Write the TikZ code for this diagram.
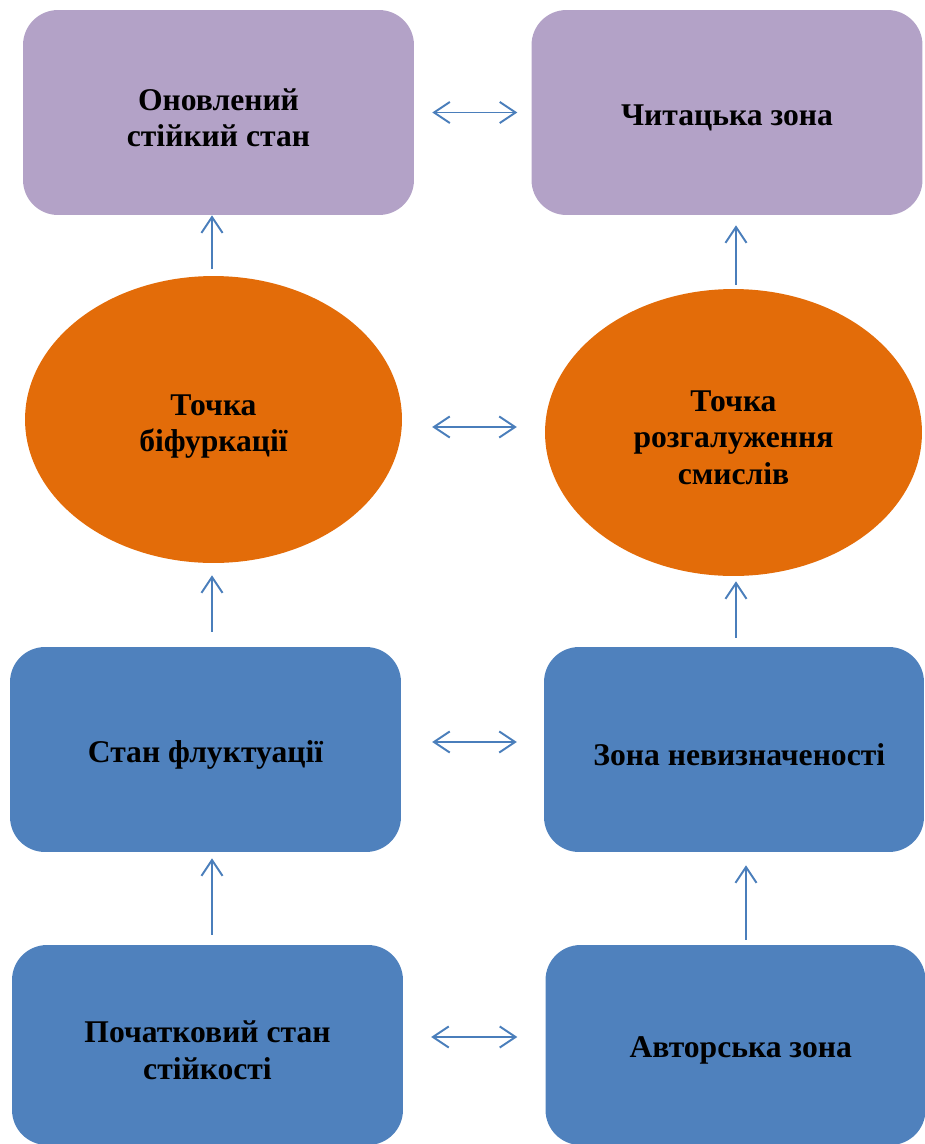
\documentclass[tikz,border=0pt]{standalone}
\usepackage{fontspec}
\setmainfont{Liberation Serif}
\usetikzlibrary{arrows.meta,shapes.geometric}
\definecolor{lilac}{HTML}{B3A2C7}
\definecolor{carrot}{HTML}{E36C09}
\definecolor{steel}{HTML}{4F81BD}
\definecolor{arrowblue}{HTML}{4A7EBB}

\begin{document}
\begin{tikzpicture}[x=0.02cm,y=-0.02cm,
  every label/.style={align=center,inner sep=0pt,yshift=-3pt,font=\fontsize{18}{21}\selectfont\bfseries},
  box/.style={rounded corners=0.7cm,minimum width=7.82cm,minimum height=4.1cm},
  oval/.style={ellipse,fill=carrot,minimum width=7.54cm,minimum height=5.74cm},
  link/.style={draw=arrowblue,line width=1.1pt,{Straight Barb[length=9pt,width=12pt]}-{Straight Barb[length=9pt,width=12pt]}},
  rise/.style={draw=arrowblue,line width=1.1pt,-{Straight Barb[length=9pt,width=12pt]}}]
  \useasboundingbox (0,0) rectangle (925,1144);

  % верхній ряд
  \node[box,fill=lilac,label={center:Оновлений\\стійкий стан}] (renew) at (218.5,112.5) {};
  \node[box,fill=lilac,label={center:Читацька зона}] (reader) at (727,112.5) {};

  % точки
  \node[oval,label={[yshift=-1pt]center:Точка\\біфуркації}] (bifur) at (213.5,419.5) {};
  \node[oval,label={center:Точка\\розгалуження\\смислів}] (branch) at (733.5,432.5) {};

  % середній ряд
  \node[box,fill=steel,label={center:Стан флуктуації}] (fluct) at (205.5,749.5) {};
  \node[box,fill=steel,minimum width=7.6cm,label={[xshift=3pt]center:Зона невизначеності}] (vague) at (734,749.5) {};

  % нижній ряд
  \node[box,fill=steel,minimum height=4cm,label={center:Початковий стан\\стійкості}] (start) at (207.5,1045) {};
  \node[box,fill=steel,minimum height=4cm,minimum width=7.6cm,label={[xshift=3pt]center:Авторська зона}] (author) at (735.5,1045) {};

  % двобічні стрілки
  \draw[link] (renew.east) ++(18,0) -- ++(85,0);
  \draw[link] ([xshift=30*0.567pt]bifur.east |- 0,427) -- ([xshift=-28*0.567pt]branch.west |- 0,427);
  \draw[link] ([xshift=31*0.567pt]fluct.east |- 0,742) -- ([xshift=-27*0.567pt]vague.west |- 0,742);
  \draw[link] ([xshift=28*0.567pt]start.east |- 0,1037) -- ([xshift=-28*0.567pt]author.west |- 0,1037);

  % стрілки вгору
  \draw[rise,shorten <=3*0.567pt] (212,272) -- (renew.south -| 212,0);
  \draw[rise] (fluct.north -| 212,0) ++(0,-15) -- ([yshift=-12*0.567pt]bifur.south -| 212,0);
  \draw[rise] (start.north -| 212,0) ++(0,-10) -- ([yshift=-6*0.567pt]fluct.south -| 212,0);
  \draw[rise] (branch.north -| 736,0) ++(0,-4) -- ([yshift=-10*0.567pt]reader.south -| 736,0);
  \draw[rise] (vague.north -| 736,0) ++(0,-9) -- ([yshift=-5*0.567pt]branch.south -| 736,0);
  \draw[rise] (author.north -| 746,0) ++(0,-5) -- ([yshift=-13*0.567pt]vague.south -| 746,0);
\end{tikzpicture}
\end{document}
